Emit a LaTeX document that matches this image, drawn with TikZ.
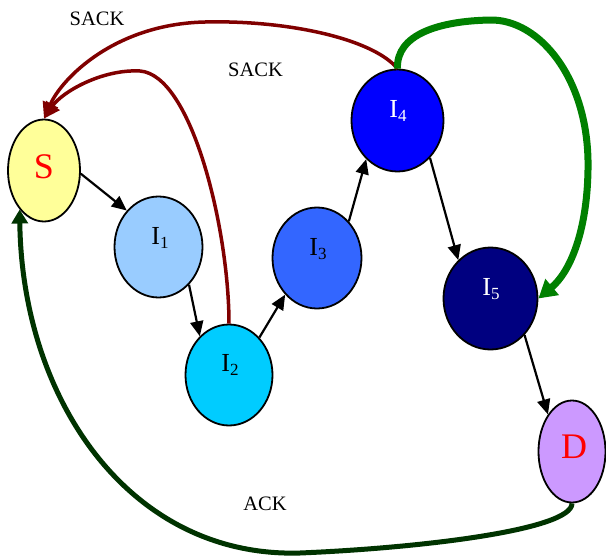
\documentclass[tikz,border=0pt]{standalone}
\usepackage{fontspec}
\setmainfont{Liberation Serif}
\usetikzlibrary{shapes.geometric,arrows.meta}
\definecolor{cS}{HTML}{FFFF99}
\definecolor{cIa}{HTML}{99CCFF}
\definecolor{cIb}{HTML}{00CCFF}
\definecolor{cIc}{HTML}{3366FF}
\definecolor{cId}{HTML}{0000FF}
\definecolor{cIe}{HTML}{000080}
\definecolor{cD}{HTML}{CC99FF}
\definecolor{sackred}{HTML}{800000}
\definecolor{brightgreen}{HTML}{008000}
\definecolor{ackgreen}{HTML}{003300}
\newcommand{\Isub}[1]{I\raisebox{-4.3pt}{\fontsize{17}{17}\selectfont #1}}
\tikzset{
  ell/.style={ellipse, draw=black, line width=1.8pt, inner sep=0pt},
  ilbl/.style={anchor=base, inner sep=0pt, font=\fontsize{26}{26}\selectfont},
  biglbl/.style={anchor=base, inner sep=0pt, text=red, font=\fontsize{36}{36}\selectfont},
  msg/.style={anchor=base, inner sep=0pt, font=\fontsize{20.5}{20.5}\selectfont},
  arr/.style={line width=2.2pt, -{Triangle[length=15pt,width=13pt]}},
  sack/.style={draw=sackred, line width=3.5pt, -{Triangle[length=16pt,width=16pt]}},
  fwd/.style={draw=brightgreen, line width=7pt, -{Triangle[length=18pt,width=20pt]}},
  ack/.style={draw=ackgreen, line width=5pt, -{Triangle[length=14pt,width=16pt]}}
}
\begin{document}
\begin{tikzpicture}[x=1pt,y=-1pt]
\useasboundingbox (0,0) rectangle (606,557);
% nodes
\node[ell, fill=cS,  minimum width=72pt, minimum height=102pt] (s)  at (44,170.5) {};
\node[ell, fill=cIa, minimum width=88pt, minimum height=101pt] (i1) at (158.5,247) {};
\node[ell, fill=cIb, minimum width=87pt, minimum height=101pt] (i2) at (229,375) {};
\node[ell, fill=cIc, minimum width=89pt, minimum height=101pt] (i3) at (317,258) {};
\node[ell, fill=cId, minimum width=92pt, minimum height=102pt] (i4) at (397.5,120.5) {};
\node[ell, fill=cIe, minimum width=94pt, minimum height=102pt] (i5) at (490.5,298.5) {};
\node[ell, fill=cD,  minimum width=67pt, minimum height=102pt] (d)  at (572,451.5) {};
% labels
\node[biglbl] (ts) at (44,178) {S};
\node[ilbl] (t1) at (160,244) {\Isub{1}};
\node[ilbl] (t2) at (230,371) {\Isub{2}};
\node[ilbl] (t3) at (318,255) {\Isub{3}};
\node[ilbl, text=white] (t4) at (398,117) {\Isub{4}};
\node[ilbl, text=white] (t5) at (491,295) {\Isub{5}};
\node[biglbl] (td) at (574,458) {D};
\node[msg] (m1) at (97,25) {SACK};
\node[msg] (m2) at (255.5,76) {SACK};
\node[msg] (m3) at (265,510) {ACK};
% forward arrows
\draw[arr] (s.-5) -- (i1.131);
\draw[arr] (i1.-51) -- (i2.127);
\draw[arr] (i2.51) -- (i3.229);
\draw[arr] (i3.49) -- (i4.231);
\draw[arr] (i4.-49) -- (i5.130);
\draw[arr] (i5.-47) -- (d.123);
% SACK curves
\draw[sack] (i4.north) .. controls (372,38) and (285,20) .. (205,22)
  .. controls (115,24) and (62,78) .. (s.north);
\draw[sack] (i2.north) .. controls (229,230) and (192,75) .. (140,71)
  .. controls (102,69) and (62,92) .. (s.north);
% I4 -> I5 green
\draw[fwd] (i4.north) .. controls (396,34) and (440,21) .. (490,20)
  .. controls (540,19) and (590,80) .. (588,170)
  .. controls (587,232) and (570,272) .. (i5.east);
% ACK
\draw[ack] (d.south) .. controls (572,530) and (420,548) .. (300,553)
  .. controls (130,558) and (22,400) .. (s.238);
\end{tikzpicture}
\end{document}
